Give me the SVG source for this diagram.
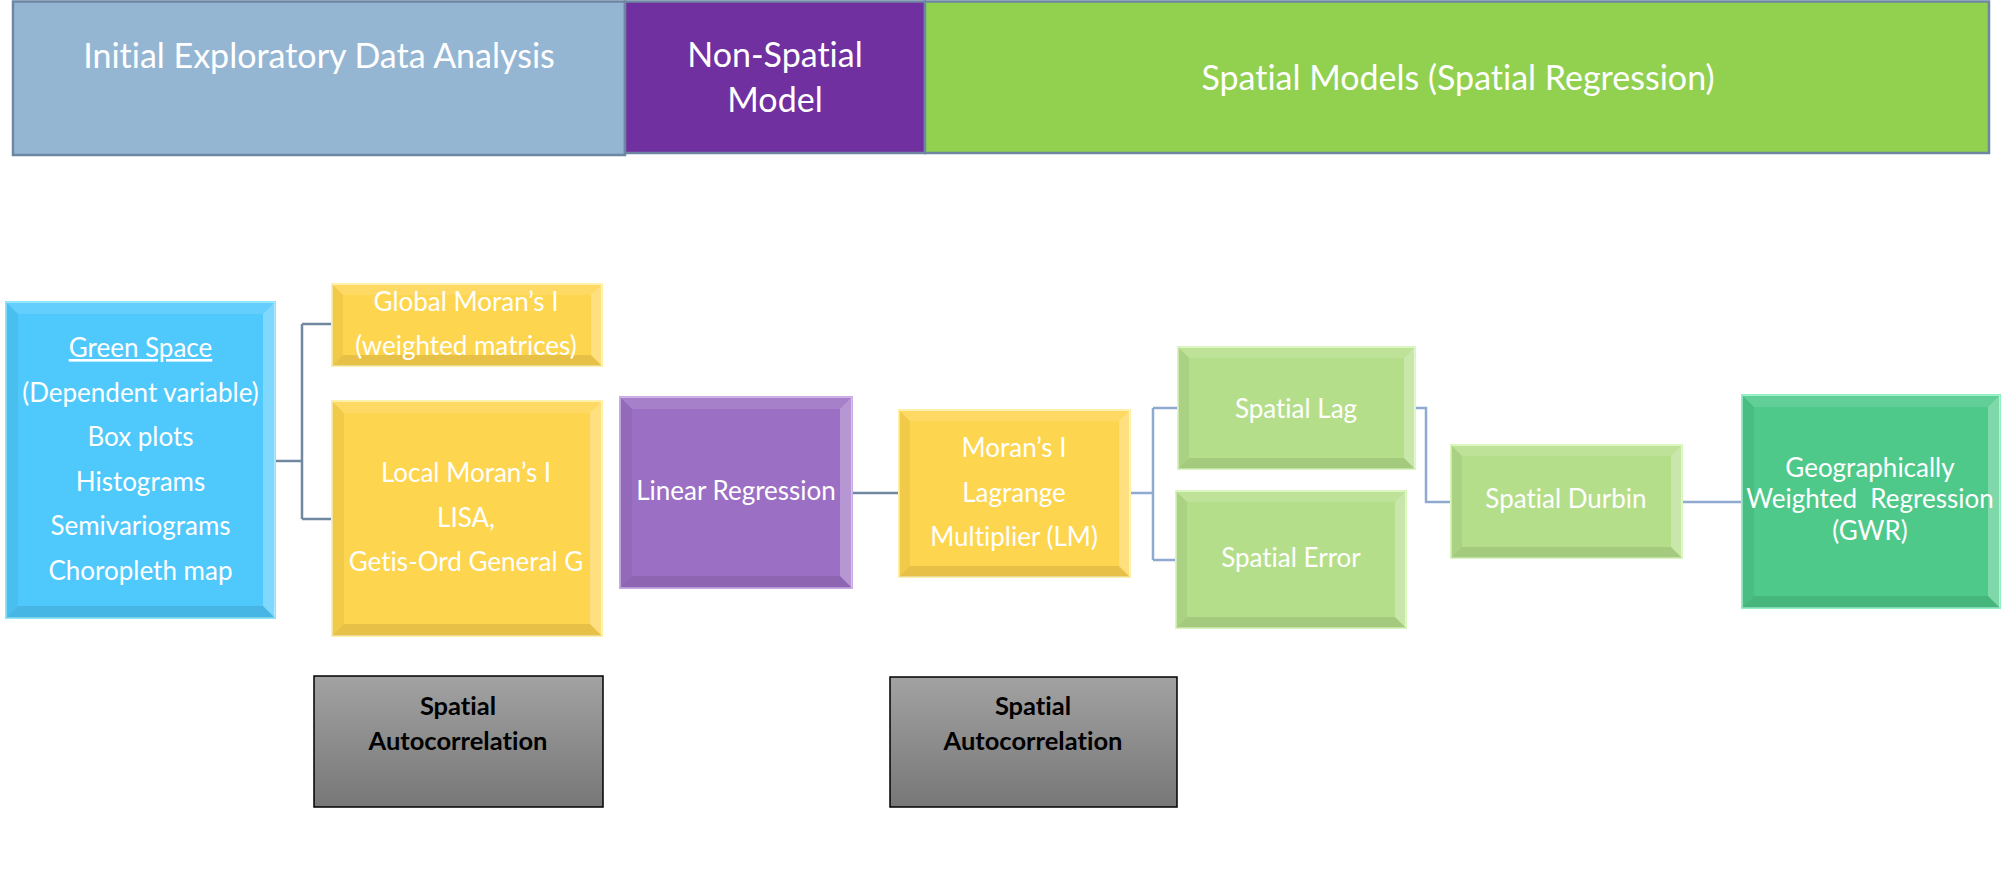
<svg xmlns="http://www.w3.org/2000/svg" width="2012" height="880" viewBox="0 0 2012 880">
<defs>
<style>
text{font-variant-ligatures:none;font-feature-settings:"liga" 0}
.hdr{stroke:#6d87a3;stroke-width:2.5}
.ht{font-family:Lato,"Open Sans",sans-serif;font-size:34px;fill:#ffffff;text-anchor:middle}
.t{font-family:Lato,"Open Sans",sans-serif;font-size:26px;fill:#ffffff;text-anchor:middle}
.tb{font-family:Lato,"Open Sans",sans-serif;font-size:25.5px;font-weight:bold;fill:#000000;text-anchor:middle}
.et{fill:#ffffff;fill-opacity:0.12}
.er{fill:#ffffff;fill-opacity:0.28}
.eb{fill:#000000;fill-opacity:0.09}
.el{fill:#000000;fill-opacity:0.05}
.conn path{fill:none;stroke-linejoin:miter}
.c1{stroke:#7088a0;stroke-width:2.5}
.c2{stroke:#8eaad0;stroke-width:2.5}
.grey{fill:url(#gg);stroke:#000000;stroke-width:1.5}
</style>
<linearGradient id="gg" x1="0" y1="0" x2="0" y2="1">
<stop offset="0" stop-color="#a2a2a2"/>
<stop offset="1" stop-color="#777777"/>
</linearGradient>
</defs>
<rect width="2012" height="880" fill="#ffffff"/>

<g id="header-eda">
<rect class="hdr" x="13" y="1.5" width="612" height="153.5" fill="#95b6d3"/>
<text class="ht" x="319" y="68">Initial Exploratory Data Analysis</text>
</g>
<g id="header-nonspatial">
<rect class="hdr" x="625" y="1.5" width="300" height="151.5" fill="#7030a0"/>
<text class="ht" x="775" y="67">Non-Spatial</text>
<text class="ht" x="775" y="112">Model</text>
</g>
<g id="header-spatial">
<rect class="hdr" x="925" y="1.5" width="1064" height="151.5" fill="#92d050"/>
<text class="ht" x="1458" y="90">Spatial Models (Spatial Regression)</text>
</g>

<g class="conn" id="connectors">
<path class="c1" d="M275 461H302M302 324V519M302 324H332M302 519H332"/>
<path class="c1" d="M852 493H899"/>
<path class="c2" d="M1130 493H1153" stroke-width="4"/>
<path class="c2" d="M1153 408V560M1153 408H1178M1153 560H1176"/>
<path class="c2" d="M1415 408H1426V502H1451"/>
<path class="c2" d="M1682 502H1742" stroke-width="3"/>
</g>

<g id="node-green-space">
<rect x="6" y="302" width="269" height="316" fill="#4fc9fc" stroke="#8ae6ff" stroke-width="2"/>
<polygon class="et" points="6,302 275,302 263,314 18,314"/>
<polygon class="er" points="275,302 275,618 263,606 263,314"/>
<polygon class="eb" points="6,618 275,618 263,606 18,606"/>
<polygon class="el" points="6,302 6,618 18,606 18,314"/>
<text class="t" x="140.5" y="357" text-decoration="underline">Green Space</text>
<text class="t" x="140.5" y="402">(Dependent variable)</text>
<text class="t" x="140.5" y="446">Box plots</text>
<text class="t" x="140.5" y="491">Histograms</text>
<text class="t" x="140.5" y="535">Semivariograms</text>
<text class="t" x="140.5" y="580">Choropleth map</text>
</g>

<g id="node-global-moran">
<rect x="332" y="284" width="270" height="82" fill="#fed54f" stroke="#fff0a8" stroke-width="2"/>
<polygon class="et" points="332,284 602,284 591,295 343,295"/>
<polygon class="er" points="602,284 602,366 591,355 591,295"/>
<polygon class="eb" points="332,366 602,366 591,355 343,355"/>
<polygon class="el" points="332,284 332,366 343,355 343,295"/>
<text class="t" x="466" y="311">Global Moran’s I</text>
<text class="t" x="466" y="355">(weighted matrices)</text>
</g>

<g id="node-local-moran">
<rect x="332" y="401" width="270" height="235" fill="#fed54f" stroke="#fff0a8" stroke-width="2"/>
<polygon class="et" points="332,401 602,401 590,413 344,413"/>
<polygon class="er" points="602,401 602,636 590,624 590,413"/>
<polygon class="eb" points="332,636 602,636 590,624 344,624"/>
<polygon class="el" points="332,401 332,636 344,624 344,413"/>
<text class="t" x="466" y="482">Local Moran’s I</text>
<text class="t" x="466" y="527">LISA,</text>
<text class="t" x="466" y="571">Getis-Ord General G</text>
</g>

<g id="node-linear-regression">
<rect x="620" y="397" width="232" height="191" fill="#9b6fc3" stroke="#cbaae8" stroke-width="2"/>
<polygon class="et" points="620,397 852,397 840,409 632,409"/>
<polygon class="er" points="852,397 852,588 840,576 840,409"/>
<polygon class="eb" points="620,588 852,588 840,576 632,576"/>
<polygon class="el" points="620,397 620,588 632,576 632,409"/>
<text class="t" x="736" y="500">Linear Regression</text>
</g>

<g id="node-moran-lm">
<rect x="899" y="410" width="231" height="167" fill="#fed54f" stroke="#fff0a8" stroke-width="2"/>
<polygon class="et" points="899,410 1130,410 1119,421 910,421"/>
<polygon class="er" points="1130,410 1130,577 1119,566 1119,421"/>
<polygon class="eb" points="899,577 1130,577 1119,566 910,566"/>
<polygon class="el" points="899,410 899,577 910,566 910,421"/>
<text class="t" x="1014" y="457">Moran’s I</text>
<text class="t" x="1014" y="502">Lagrange</text>
<text class="t" x="1014" y="546">Multiplier (LM)</text>
</g>

<g id="node-spatial-lag">
<rect x="1178" y="347" width="237" height="122" fill="#b5de8a" stroke="#d9f6bc" stroke-width="2"/>
<polygon class="et" points="1178,347 1415,347 1404,358 1189,358"/>
<polygon class="er" points="1415,347 1415,469 1404,458 1404,358"/>
<polygon class="eb" points="1178,469 1415,469 1404,458 1189,458"/>
<polygon class="el" points="1178,347 1178,469 1189,458 1189,358"/>
<text class="t" x="1296" y="418">Spatial Lag</text>
</g>

<g id="node-spatial-error">
<rect x="1176" y="491" width="230" height="137" fill="#b5de8a" stroke="#d9f6bc" stroke-width="2"/>
<polygon class="et" points="1176,491 1406,491 1395,502 1187,502"/>
<polygon class="er" points="1406,491 1406,628 1395,617 1395,502"/>
<polygon class="eb" points="1176,628 1406,628 1395,617 1187,617"/>
<polygon class="el" points="1176,491 1176,628 1187,617 1187,502"/>
<text class="t" x="1291" y="567">Spatial Error</text>
</g>

<g id="node-spatial-durbin">
<rect x="1451" y="445" width="231" height="113" fill="#b5de8a" stroke="#d9f6bc" stroke-width="2"/>
<polygon class="et" points="1451,445 1682,445 1671,456 1462,456"/>
<polygon class="er" points="1682,445 1682,558 1671,547 1671,456"/>
<polygon class="eb" points="1451,558 1682,558 1671,547 1462,547"/>
<polygon class="el" points="1451,445 1451,558 1462,547 1462,456"/>
<text class="t" x="1566" y="508">Spatial Durbin</text>
</g>

<g id="node-gwr">
<rect x="1742" y="395" width="258" height="213" fill="#4ec98a" stroke="#90f0c4" stroke-width="2"/>
<polygon class="et" points="1742,395 2000,395 1988,407 1754,407"/>
<polygon class="er" points="2000,395 2000,608 1988,596 1988,407"/>
<polygon class="eb" points="1742,608 2000,608 1988,596 1754,596"/>
<polygon class="el" points="1742,395 1742,608 1754,596 1754,407"/>
<text class="t" x="1870" y="477">Geographically</text>
<text class="t" x="1870" y="508" xml:space="preserve">Weighted  Regression</text>
<text class="t" x="1870" y="540">(GWR)</text>
</g>

<g id="node-spatial-autocorrelation-1">
<rect class="grey" x="314" y="676" width="289" height="131"/>
<text class="tb" x="458" y="715">Spatial</text>
<text class="tb" x="458" y="750">Autocorrelation</text>
</g>

<g id="node-spatial-autocorrelation-2">
<rect class="grey" x="890" y="677" width="287" height="130"/>
<text class="tb" x="1033" y="715">Spatial</text>
<text class="tb" x="1033" y="750">Autocorrelation</text>
</g>
</svg>
